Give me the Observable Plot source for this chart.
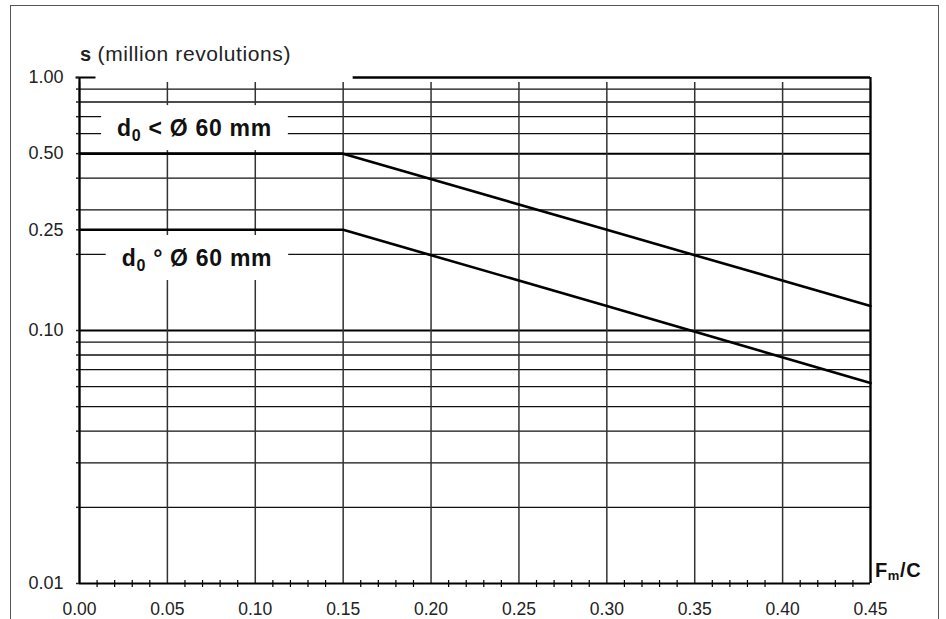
<!DOCTYPE html>
<html><head><meta charset="utf-8">
<script src="https://cdn.jsdelivr.net/npm/d3@7"></script>
<script src="https://cdn.jsdelivr.net/npm/@observablehq/plot@0.6"></script>
<style>
body{margin:0;background:#fff;font-family:"Liberation Sans",Arial,sans-serif;}
#wrap{position:relative;width:946px;height:619px;overflow:hidden;background:#fff;}
#border{position:absolute;left:10px;top:5px;width:927px;height:700px;border:1.5px solid #555;border-bottom:none;}
#chart{position:absolute;left:0;top:0;}
#title{position:absolute;left:80px;top:42px;font-size:21px;letter-spacing:0.6px;line-height:1.149;color:#222;white-space:nowrap;}
#title b{font-size:20px;letter-spacing:0;}
#xlab{position:absolute;left:875px;top:560px;font-size:20px;letter-spacing:0.6px;font-weight:bold;line-height:1;color:#111;white-space:nowrap;}
#xlab sub{font-size:13px;vertical-align:-3px;line-height:0;}
</style></head>
<body>
<div id="wrap">
<div id="border"></div>
<div id="chart"></div>
<div id="title"><b>s</b> (million revolutions)</div>
<div id="xlab">F<sub>m</sub>/C</div>
</div>
<script>
// x axis
const xTicks = [0, 0.05, 0.10, 0.15, 0.20, 0.25, 0.30, 0.35, 0.40, 0.45];
const xMinor = [0.01,0.02,0.03,0.04,0.06,0.07,0.08,0.09,0.11,0.12,0.13,0.14,0.16,0.17,0.18,0.19,
  0.21,0.22,0.23,0.24,0.26,0.27,0.28,0.29,0.31,0.32,0.33,0.34,0.36,0.37,0.38,0.39,0.41,0.42,0.43,0.44];
// y axis (log)
const yLabelTicks = [0.01, 0.10, 0.25, 0.50, 1.00];
const yGridMinor = [0.02,0.03,0.04,0.05,0.06,0.07,0.08,0.09,0.2,0.3,0.4,0.6,0.7,0.8,0.9];
const yGridMajor = [0.1, 0.5];
const yAllTicks = [0.01,0.02,0.03,0.04,0.05,0.06,0.07,0.08,0.09,0.1,0.2,0.25,0.3,0.4,0.5,0.6,0.7,0.8,0.9,1];
// series: F_m/C vs s (million revolutions)
const fmc = [0, 0.15, 0.30, 0.45];
const sSmall = [0.50, 0.50, 0.25, 0.125];   // d0 < Ø 60 mm
const sLarge = [0.25, 0.25, 0.125, 0.062];  // d0 ≥ Ø 60 mm
const upper = fmc.map((x, i) => ({x, y: sSmall[i]}));
const lower = fmc.map((x, i) => ({x, y: sLarge[i]}));
// annotations
const labelRel = ["<", "°"];
const labelX = [0.0657, 0.0671];
const labelY = [0.584, 0.179];

const vtick = {draw(ctx, size) { const r = Math.sqrt(size / Math.PI); ctx.moveTo(0, -r); ctx.lineTo(0, r); }};
const htick = {draw(ctx, size) { const r = Math.sqrt(size / Math.PI); ctx.moveTo(-r, 0); ctx.lineTo(r, 0); }};

const chart = Plot.plot({
  width: 946, height: 619,
  marginLeft: 79, marginRight: 76, marginTop: 77, marginBottom: 36,
  style: {fontFamily: "'Liberation Sans', Arial, sans-serif", fontSize: "17px", color: "#222", background: "transparent", overflow: "visible"},
  x: {domain: [0, 0.45]},
  y: {type: "log", domain: [0.01, 1]},
  marks: [
    Plot.ruleY(yGridMinor, {stroke: "#111", strokeWidth: 1.3}),
    Plot.ruleY(yGridMajor, {stroke: "#000", strokeWidth: 2}),
    Plot.ruleX(xTicks, {stroke: "#333", strokeWidth: 1.5, insetTop: 5}),
    Plot.ruleY([1], {x1: 0.15, x2: 0.45, insetLeft: 10, stroke: "#000", strokeWidth: 2.5}),
    Plot.ruleX([0], {stroke: "#000", strokeWidth: 2.2}),
    Plot.ruleX([0.45], {stroke: "#000", strokeWidth: 2.2}),
    Plot.ruleY([0.01], {stroke: "#000", strokeWidth: 2.2}),
    Plot.dot([1], {x: () => 0, y: d => d, symbol: htick, r: 10, dx: 6, stroke: "#000", strokeWidth: 2, fill: "none"}),
    Plot.line(upper, {x: "x", y: "y", stroke: "#000", strokeWidth: 2.6}),
    Plot.line(lower, {x: "x", y: "y", stroke: "#000", strokeWidth: 2.6}),
    Plot.dot(xMinor, {x: d => d, y: () => 0.01, symbol: vtick, r: 3.5, stroke: "#000", strokeWidth: 1.2, fill: "none"}),
    Plot.axisX(xTicks, {tickSize: 0, tickPadding: 19, tickFormat: d3.format(".2f"), fontSize: 17.5, label: null}),
    Plot.axisY(yAllTicks, {tickSize: 3, tickFormat: () => "", label: null, strokeWidth: 1.5}),
    Plot.axisY(yLabelTicks, {tickSize: 0, tickPadding: 16, tickFormat: d3.format(".2f"), fontSize: 18, label: null})
  ]
});
document.getElementById("chart").appendChild(chart);

// label boxes with subscripts, positioned through the plot's scales
const sx = chart.scale("x"), sy = chart.scale("y");
const svg = d3.select(chart);
const g = svg.append("g");
labelRel.forEach((rel, i) => {
  const cx = sx.apply(labelX[i]), by = sy.apply(labelY[i]);
  const rect = g.append("rect").attr("fill", "#fff");
  const t = g.append("text")
    .attr("x", cx).attr("y", by)
    .attr("text-anchor", "middle")
    .attr("font-family", "'Liberation Sans', Arial, sans-serif")
    .attr("font-weight", "bold").attr("font-size", 23).attr("fill", "#111")
    .attr("letter-spacing", 0.7)
    .attr("xml:space", "preserve");
  t.append("tspan").text("d");
  t.append("tspan").attr("font-size", 16).attr("dy", 5).text("0");
  t.append("tspan").attr("dy", -5).text(" " + rel + " Ø 60 mm");
  const b = t.node().getBBox();
  rect.attr("x", b.x - 16).attr("y", by - 31).attr("width", b.width + 32).attr("height", 45);
});
</script>
</body></html>
